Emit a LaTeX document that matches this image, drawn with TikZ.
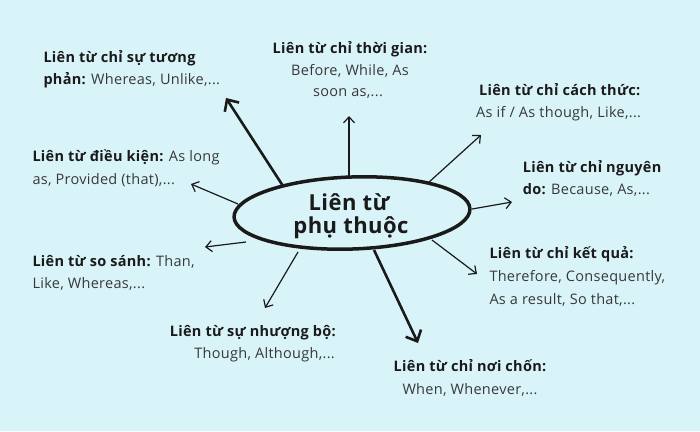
\documentclass[tikz,border=0pt]{standalone}
\usepackage{fontspec}
\setmainfont{Open Sans}[LetterSpace=2]
\usetikzlibrary{arrows.meta,shapes.geometric}
\definecolor{bg}{HTML}{D9F4F9}
\definecolor{ink}{HTML}{1A1A1A}
\definecolor{txt}{HTML}{383838}
\tikzset{
  lbl/.style={inner sep=0pt,font=\fontsize{14.5}{17}\selectfont,text=txt},
  lw/.style={lbl,anchor=base west},
  lc/.style={lbl,anchor=base},
  lr/.style={lbl,anchor=base east},
  ctr/.style={inner sep=0pt,anchor=base,font=\fontsize{22}{26}\selectfont\bfseries,text=ink},
  thinarrow/.style={draw=ink,line width=1.2pt,-{Straight Barb[length=6pt,width=11pt,line width=1.2pt]}},
  thickarrow/.style={draw=ink,line width=2.6pt,-{Straight Barb[length=9pt,width=17pt,line width=2.6pt]}},
}
\newcommand{\bt}[1]{\textbf{\color{ink}#1}}
\begin{document}
\begin{tikzpicture}[x=1pt,y=-1pt]
\fill[bg] (0,0) rectangle (700,431);
\useasboundingbox (0,0) rectangle (700,431);

% central ellipse
\node[ellipse,draw=ink,line width=3.5pt,minimum width=236pt,minimum height=72pt,inner sep=0pt,rotate=2] (ell) at (352,213) {};
\node[ctr] (c1) at (349,210) {Liên từ};
\node[ctr] (c2) at (351,233) {phụ thuộc};

% labels
\node[lw] (a1) at (43.3,62.7) {\bt{Liên từ chỉ sự tương}};
\node[lw] (a2) at (43.3,84) {\bt{phản:} Whereas, Unlike,...};

\node[lc] (b1) at (350,53.3) {\bt{Liên từ chỉ thời gian:}};
\node[lc] (b2) at (350,75) {Before, While, As};
\node[lc] (b3) at (348,96.7) {soon as,...};

\node[lw] (d1) at (479,95) {\bt{Liên từ chỉ cách thức:}};
\node[lw] (d2) at (476,117.7) {As if / As though, Like,...};

\node[lw] (e1) at (522.7,172.7) {\bt{Liên từ chỉ nguyên}};
\node[lw] (e2) at (522.7,194.3) {\bt{do:} Because, As,...};

\node[lw] (f1) at (32.3,161.7) {\bt{Liên từ điều kiện:} As long};
\node[lw] (f2) at (32.3,184.3) {as, Provided (that),...};

\node[lw] (g1) at (32.3,266) {\bt{Liên từ so sánh:} Than,};
\node[lw] (g2) at (32.3,288.7) {Like, Whereas,...};

\node[lw] (h1) at (489.3,258.3) {\bt{Liên từ chỉ kết quả:}};
\node[lw] (h2) at (489.3,281.7) {Therefore, Consequently,};
\node[lw] (h3) at (489.3,304) {As a result, So that,...};

\node[lr] (i1) at (336,336) {\bt{Liên từ sự nhượng bộ:}};
\node[lr] (i2) at (335,358.3) {Though, Although,...};

\node[lc] (j1) at (470,371.7) {\bt{Liên từ chỉ nơi chốn:}};
\node[lc] (j2) at (470,394.3) {When, Whenever,...};

% arrow end points
\coordinate (s1) at (283,186);  \coordinate (t1) at (226,98);
\coordinate (s2) at (349,176);  \coordinate (t2) at (349,116);
\coordinate (s3) at (428,183);  \coordinate (t3) at (481,135);
\coordinate (s4) at (472,209);  \coordinate (t4) at (512,202);
\coordinate (s5) at (432,240);  \coordinate (t5) at (477,274);
\coordinate (s6) at (374,250);  \coordinate (t6) at (418,343);
\coordinate (s7) at (298,252);  \coordinate (t7) at (265,308);
\coordinate (s8) at (246,242);  \coordinate (t8) at (205,247);
\coordinate (s9) at (238,204);  \coordinate (t9) at (191,184);

\draw[thickarrow] (s1) -- (t1);
\draw[thinarrow] (s2) -- (t2);
\draw[thinarrow] (s3) -- (t3);
\draw[thinarrow] (s4) -- (t4);
\draw[thinarrow] (s5) -- (t5);
\draw[thickarrow] (s6) -- (t6);
\draw[thinarrow] (s7) -- (t7);
\draw[thinarrow] (s8) -- (t8);
\draw[thinarrow] (s9) -- (t9);
\end{tikzpicture}
\end{document}
